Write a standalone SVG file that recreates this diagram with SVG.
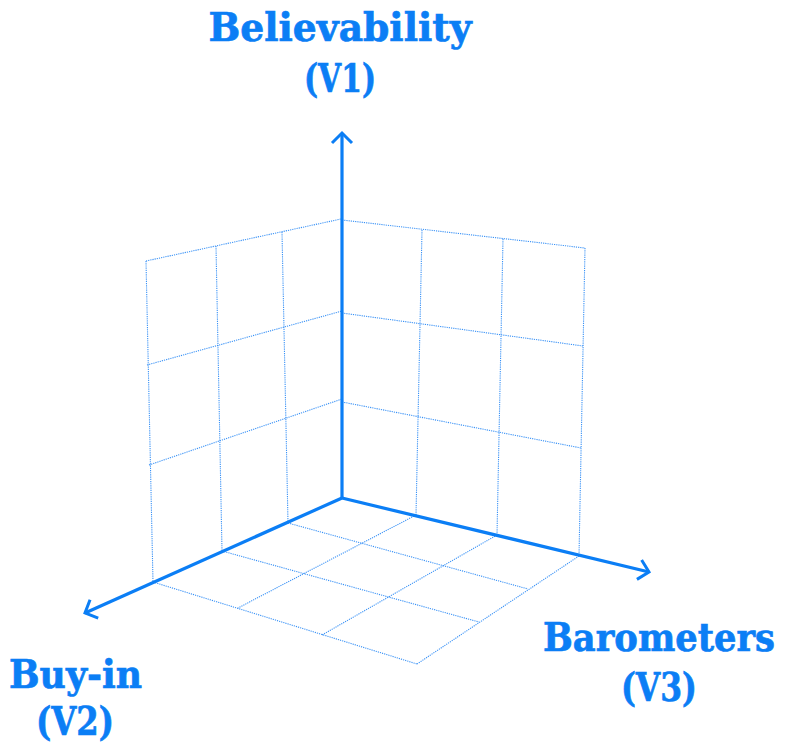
<svg xmlns="http://www.w3.org/2000/svg" width="787" height="743" viewBox="0 0 787 743">
  <style>
    .grid { fill: none; stroke: #3a92f6; stroke-width: 1.1; stroke-dasharray: 1.2 1; }
    .axis { fill: none; stroke: #0b7ef5; stroke-width: 3.2; }
    .lbl { font-family: "DejaVu Serif", "Liberation Serif", serif; font-weight: bold; fill: #0b7ef5; stroke: #0b7ef5; stroke-width: 0.7; font-size: 39px; text-anchor: middle; }
  </style>
  <defs>
    <marker id="chev" markerUnits="userSpaceOnUse" markerWidth="40" markerHeight="40" viewBox="-20 -20 40 40" refX="0" refY="0" orient="auto" overflow="visible">
      <path d="M-10,-10 L0,0 L-10,10" fill="none" stroke="#0b7ef5" stroke-width="3" stroke-linejoin="miter"/>
    </marker>
  </defs>
  <rect width="787" height="743" fill="#ffffff"/>

  <g id="grid-left-wall">
    <path class="grid" d="M146,261 L341,219 M147,365 L342,311 M149,465 L342,399"/>
    <path class="grid" d="M146,261 L153,582 M216,246 L222,551 M282,232 L288,523"/>
  </g>
  <g id="grid-right-wall">
    <path class="grid" d="M342,220 L585,248 M342,313 L583,346 M342,402 L581,448"/>
    <path class="grid" d="M422,230 L416,515 M503,239 L497,535 M585,248 L579,556"/>
  </g>
  <g id="grid-floor">
    <path class="grid" d="M416,515 L238,608 M497,535 L322,635 M579,556 L417,664"/>
    <path class="grid" d="M288,523 L528,589 M222,551 L479,622 M153,582 L417,664"/>
  </g>

  <g id="connectors">
    <line class="axis" x1="342" y1="498" x2="342" y2="133" marker-end="url(#chev)"/>
    <line class="axis" x1="342" y1="498" x2="85" y2="613" marker-end="url(#chev)"/>
    <line class="axis" x1="342" y1="498" x2="649" y2="572" marker-end="url(#chev)"/>
  </g>

  <g id="label-v1">
    <text class="lbl" x="340" y="41" textLength="263" lengthAdjust="spacingAndGlyphs">Believability</text>
    <text class="lbl" x="340" y="92" textLength="72" lengthAdjust="spacingAndGlyphs">(V1)</text>
  </g>
  <g id="label-v2">
    <text class="lbl" x="75.5" y="688" textLength="133" lengthAdjust="spacingAndGlyphs">Buy-in</text>
    <text class="lbl" x="75" y="735" textLength="78" lengthAdjust="spacingAndGlyphs">(V2)</text>
  </g>
  <g id="label-v3">
    <text class="lbl" x="659" y="651" textLength="232" lengthAdjust="spacingAndGlyphs">Barometers</text>
    <text class="lbl" x="659" y="701" textLength="76" lengthAdjust="spacingAndGlyphs">(V3)</text>
  </g>
</svg>
